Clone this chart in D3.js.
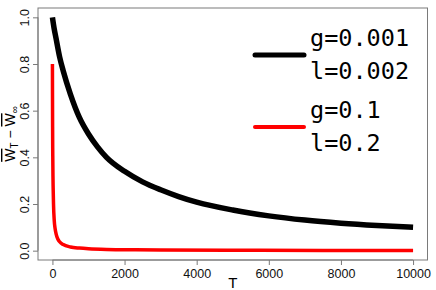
<!DOCTYPE html>
<html>
<head>
<meta charset="utf-8">
<script src="https://cdn.jsdelivr.net/npm/d3@7"></script>
<style>
  html, body { margin: 0; padding: 0; background: #fff; }
  svg { display: block; }
</style>
</head>
<body>
<svg id="chart" width="436" height="290"></svg>
<script>
// ---- data ----
const blackT = [0, 50, 100, 200, 300, 500, 750, 1000, 1250, 1500, 2000, 2500, 3000, 3500, 4000, 5000, 6000, 7000, 8000, 9000, 10000];
const blackV = [1.0, 0.95, 0.91, 0.83, 0.77, 0.67, 0.57, 0.50, 0.445, 0.40, 0.34, 0.295, 0.261, 0.232, 0.208, 0.174, 0.149, 0.131, 0.118, 0.108, 0.100];
const redT = [0, 1, 2, 3, 5, 8, 10, 15, 20, 30, 50, 75, 100, 150, 200, 300, 500, 750, 1000, 1500, 2000, 3000, 5000, 7500, 10000];
const redV = [0.80, 0.73, 0.67, 0.62, 0.53, 0.44, 0.40, 0.32, 0.27, 0.20, 0.13, 0.094, 0.073, 0.050, 0.038, 0.026, 0.016, 0.011, 0.008, 0.005, 0.004, 0.003, 0.002, 0.001, 0.001];
const xTicks = [0, 2000, 4000, 6000, 8000, 10000];
const yTicks = [0.0, 0.2, 0.4, 0.6, 0.8, 1.0];
const legendLabels = [["g=0.001", "l=0.002"], ["g=0.1", "l=0.2"]];
const seriesColors = ["#000000", "#ff0000"];

// ---- layout ----
const svg = d3.select("#chart");
const box = { left: 38, right: 427.5, top: 8, bottom: 260 };
const x = d3.scaleLinear().domain([-400, 10400]).range([box.left, box.right]);
const y = d3.scaleLinear().domain([-0.04, 1.04]).range([box.bottom, box.top]);
const axisColor = "#7a7a7a";

// plot box
svg.append("rect")
  .attr("x", box.left).attr("y", box.top)
  .attr("width", box.right - box.left).attr("height", box.bottom - box.top)
  .attr("fill", "none").attr("stroke", axisColor).attr("stroke-width", 1);

// x axis
const xAxis = d3.axisBottom(x).tickValues(xTicks).tickSize(5).tickPadding(4).tickFormat(d3.format("d"));
const gx = svg.append("g").attr("transform", `translate(0,${box.bottom})`).call(xAxis);
gx.select(".domain").attr("d", `M${x(0)},0H${x(10000)}`).attr("stroke", axisColor);
gx.selectAll(".tick line").attr("stroke", axisColor);
gx.selectAll(".tick text").attr("font-family", "Liberation Sans, Arial, sans-serif").attr("font-size", 12.5).attr("fill", "#111");

// y axis
const yAxis = d3.axisLeft(y).tickValues(yTicks).tickSize(5).tickFormat(d3.format(".1f"));
const gy = svg.append("g").attr("transform", `translate(${box.left},0)`).call(yAxis);
gy.select(".domain").attr("d", `M0,${y(0)}V${y(1)}`).attr("stroke", axisColor);
gy.selectAll(".tick line").attr("stroke", axisColor);
gy.selectAll(".tick text")
  .attr("font-family", "Liberation Sans, Arial, sans-serif").attr("font-size", 12.5).attr("fill", "#111")
  .attr("x", null).attr("dy", null)
  .attr("text-anchor", "middle")
  .attr("transform", "translate(-9.5,0) rotate(-90)");

// axis titles
svg.append("text")
  .attr("x", x(5000)).attr("y", 288)
  .attr("text-anchor", "middle")
  .attr("font-family", "Liberation Sans, Arial, sans-serif").attr("font-size", 15)
  .text("T");

const yl = svg.append("text")
  .attr("transform", `translate(15,${y(0.5)}) rotate(-90)`)
  .attr("text-anchor", "middle")
  .attr("font-family", "Liberation Sans, Arial, sans-serif").attr("font-size", 14);
yl.append("tspan").style("text-decoration", "overline").text("W");
yl.append("tspan").attr("font-size", 10).attr("dy", 3).style("text-decoration", "none").text("T");
yl.append("tspan").attr("dy", -3).text(" \u2212 ");
yl.append("tspan").style("text-decoration", "overline").text("W");
yl.append("tspan").attr("font-size", 10).attr("dy", 3).text("\u221E");

// lines
const line = d3.line().curve(d3.curveMonotoneX).x(d => x(d[0])).y(d => y(d[1]));
const plotG = svg.append("g");
plotG.append("path")
  .datum(blackT.map((t, i) => [t, blackV[i]]))
  .attr("d", line).attr("fill", "none")
  .attr("stroke", seriesColors[0]).attr("stroke-width", 5.5).attr("stroke-linecap", "butt").attr("stroke-linejoin", "round");
plotG.append("path")
  .datum(redT.map((t, i) => [t, redV[i]]))
  .attr("d", line).attr("fill", "none")
  .attr("stroke", seriesColors[1]).attr("stroke-width", 3.5).attr("stroke-linecap", "butt").attr("stroke-linejoin", "round");

// legend
const legY = [55, 127];
const legWidths = [5, 4];
legendLabels.forEach((lab, i) => {
  svg.append("line")
    .attr("x1", 255).attr("x2", 304).attr("y1", legY[i]).attr("y2", legY[i])
    .attr("stroke", seriesColors[i]).attr("stroke-width", legWidths[i]).attr("stroke-linecap", "round");
  lab.forEach((s, j) => {
    svg.append("text")
      .attr("x", 310).attr("y", legY[i] - 9 + j * 33)
      .attr("font-family", "DejaVu Sans Mono, monospace").attr("font-size", 23.5)
      .attr("fill", "#000")
      .text(s);
  });
});
</script>
</body>
</html>
